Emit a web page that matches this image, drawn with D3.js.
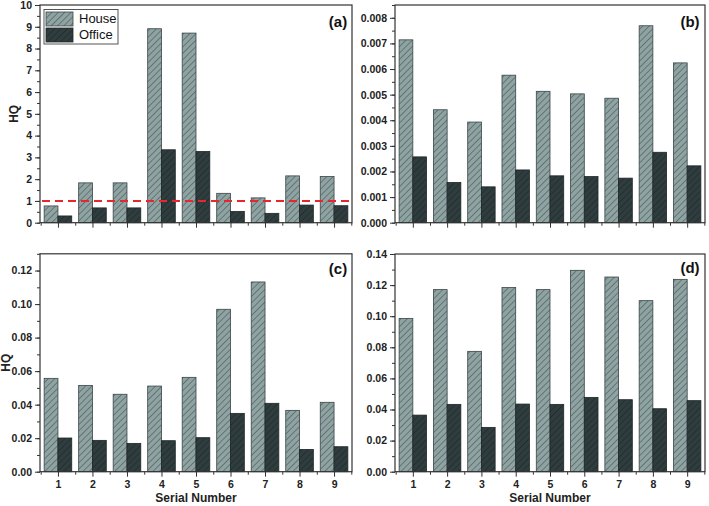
<!DOCTYPE html>
<html><head><meta charset="utf-8">
<script src="https://cdn.jsdelivr.net/npm/d3@7"></script>
<style>body{margin:0;background:#fff}svg{display:block;font-family:"Liberation Sans",Arial,sans-serif}</style>
</head><body><svg id="c" width="709" height="506"></svg>
<script>
const categories = [1,2,3,4,5,6,7,8,9];
const houseA = [0.77,1.83,1.83,8.91,8.71,1.35,1.14,2.15,2.12];
const officeA = [0.31,0.68,0.68,3.35,3.27,0.52,0.43,0.81,0.78];
const houseB = [0.00714,0.00441,0.00393,0.00576,0.00513,0.00503,0.00486,0.00769,0.00624];
const officeB = [0.00257,0.00157,0.00140,0.00206,0.00183,0.00180,0.00174,0.00275,0.00222];
const houseC = [0.0557,0.0515,0.0462,0.0511,0.0563,0.0969,0.1132,0.0366,0.0414];
const officeC = [0.0201,0.0187,0.0169,0.0185,0.0203,0.0348,0.0408,0.0133,0.0149];
const houseD = [0.0986,0.1171,0.0774,0.1184,0.1171,0.1295,0.1252,0.1100,0.1237];
const officeD = [0.0364,0.0433,0.0285,0.0435,0.0433,0.0478,0.0463,0.0405,0.0457];
const seriesNames = ["House","Office"];
const thresholdA = 1;

const svg = d3.select("#c");
const defs = svg.append("defs");
function hatch(id, bg, line){
  const p = defs.append("pattern").attr("id",id).attr("patternUnits","userSpaceOnUse")
    .attr("width",4.5).attr("height",4.5).attr("patternTransform","rotate(45)");
  p.append("rect").attr("width",4.5).attr("height",4.5).attr("fill",bg);
  p.append("line").attr("x1",0).attr("y1",0).attr("x2",0).attr("y2",4.5).attr("stroke",line).attr("stroke-width",1.1);
}
hatch("hH","#8fa3a3","#3f4f51");
hatch("hO","#2f3d3f","#1a2324");
const fills = ["url(#hH)","url(#hO)"];
const strokes = ["#3a4446","#1e2627"];

const panels = [
  {house:houseA, office:officeA, x0:40, x1:352, y0:5, y1:222.7, max:10, step:1, fmt:d3.format("d"), label:"(a)", lx:338, ly:23, hq:15, xl:false},
  {house:houseB, office:officeB, x0:395, x1:705, y0:5, y1:222.7, max:0.0085, step:0.001, fmt:d3.format(".3f"), label:"(b)", lx:690, ly:23, hq:0, xl:false},
  {house:houseC, office:officeC, x0:40, x1:352, y0:253.8, y1:471.7, max:0.13, step:0.02, fmt:d3.format(".2f"), label:"(c)", lx:338, ly:270, hq:7, xl:true},
  {house:houseD, office:officeD, x0:395, x1:705, y0:254, y1:471.7, max:0.14, step:0.02, fmt:d3.format(".2f"), label:"(d)", lx:690, ly:269, hq:0, xl:true}
];

panels.forEach((p,pi)=>{
  const g = svg.append("g");
  const x = d3.scaleLinear().domain([0.48,9.52]).range([p.x0,p.x1]);
  const y = d3.scaleLinear().domain([0,p.max]).range([p.y1,p.y0]);
  const bw = (x(2)-x(1))*0.4;
  [p.house,p.office].forEach((vals,si)=>{
    g.selectAll(null).data(categories).enter().append("rect")
      .attr("x",(d,i)=> x(d) + (si===0 ? -bw : 0))
      .attr("y",(d,i)=> y(vals[i]))
      .attr("width",bw)
      .attr("height",(d,i)=> y(0)-y(vals[i]))
      .attr("fill",fills[si]).attr("stroke",strokes[si]).attr("stroke-width",0.8);
  });
  if(pi===0){
    g.append("line").attr("x1",p.x0+2).attr("x2",p.x1-2).attr("y1",y(thresholdA)).attr("y2",y(thresholdA))
      .attr("stroke","#e8262b").attr("stroke-width",2).attr("stroke-dasharray","8,5");
  }
  g.append("rect").attr("x",p.x0).attr("y",p.y0).attr("width",p.x1-p.x0).attr("height",p.y1-p.y0)
    .attr("fill","none").attr("stroke","#333").attr("stroke-width",1.2);
  const nMaj = Math.floor(p.max/p.step+1e-9);
  const maj = d3.range(0,nMaj+1).map(i=>i*p.step);
  const minr = d3.range(0,2*nMaj+2).map(i=>i*p.step/2).filter(v=>v<=p.max+1e-12);
  const ya = d3.axisLeft(y).tickValues(maj).tickFormat(p.fmt).tickSize(5).tickPadding(3);
  const yg = g.append("g").attr("transform",`translate(${p.x0},0)`).call(ya);
  yg.select(".domain").remove();
  yg.selectAll("text").attr("font-size","10.5px").attr("font-weight","bold").attr("fill","#222");
  yg.selectAll("line").attr("stroke","#333");
  g.append("g").attr("transform",`translate(${p.x0},0)`).call(d3.axisLeft(y).tickValues(minr).tickSize(3).tickFormat(""))
    .call(s=>{s.select(".domain").remove(); s.selectAll("line").attr("stroke","#333");});
  const xa = d3.axisBottom(x).tickValues(categories).tickFormat(p.xl?d3.format("d"):"").tickSize(5).tickPadding(4);
  const xg = g.append("g").attr("transform",`translate(0,${p.y1})`).call(xa);
  xg.select(".domain").remove();
  xg.selectAll("text").attr("font-size","10.5px").attr("font-weight","bold").attr("fill","#222");
  xg.selectAll("line").attr("stroke","#333");
  const halfs = d3.range(0,10).map(i=>i+0.5);
  g.append("g").attr("transform",`translate(0,${p.y1})`).call(d3.axisBottom(x).tickValues(halfs).tickSize(3).tickFormat(""))
    .call(s=>{s.select(".domain").remove(); s.selectAll("line").attr("stroke","#333");});
  g.append("text").attr("x",p.lx).attr("y",p.ly).attr("text-anchor","middle").attr("dominant-baseline","middle")
    .attr("font-size","15px").attr("font-weight","bold").attr("fill","#111").text(p.label);
  if(p.hq){
    g.append("text").attr("transform",`translate(${p.hq},${(p.y0+p.y1)/2}) rotate(-90)`).attr("text-anchor","middle")
      .attr("dominant-baseline","middle").attr("font-size","12px").attr("font-weight","bold").attr("fill","#222").text("HQ");
  }
  if(p.xl){
    g.append("text").attr("x",(p.x0+p.x1)/2).attr("y",499).attr("text-anchor","middle").attr("dominant-baseline","middle")
      .attr("font-size","12px").attr("font-weight","bold").attr("fill","#222").text("Serial Number");
  }
});

const lg = svg.append("g");
lg.append("rect").attr("x",44).attr("y",9.5).attr("width",74).attr("height",34.5).attr("fill","#fff").attr("stroke","#555").attr("stroke-width",1);
seriesNames.forEach((n,i)=>{
  lg.append("rect").attr("x",46).attr("y",12+i*16).attr("width",27).attr("height",14).attr("fill",fills[i]).attr("stroke",strokes[i]).attr("stroke-width",0.8);
  lg.append("text").attr("x",79).attr("y",19.5+i*16).attr("dominant-baseline","middle").attr("font-size","13px").attr("fill","#111").text(n);
});
</script></body></html>
